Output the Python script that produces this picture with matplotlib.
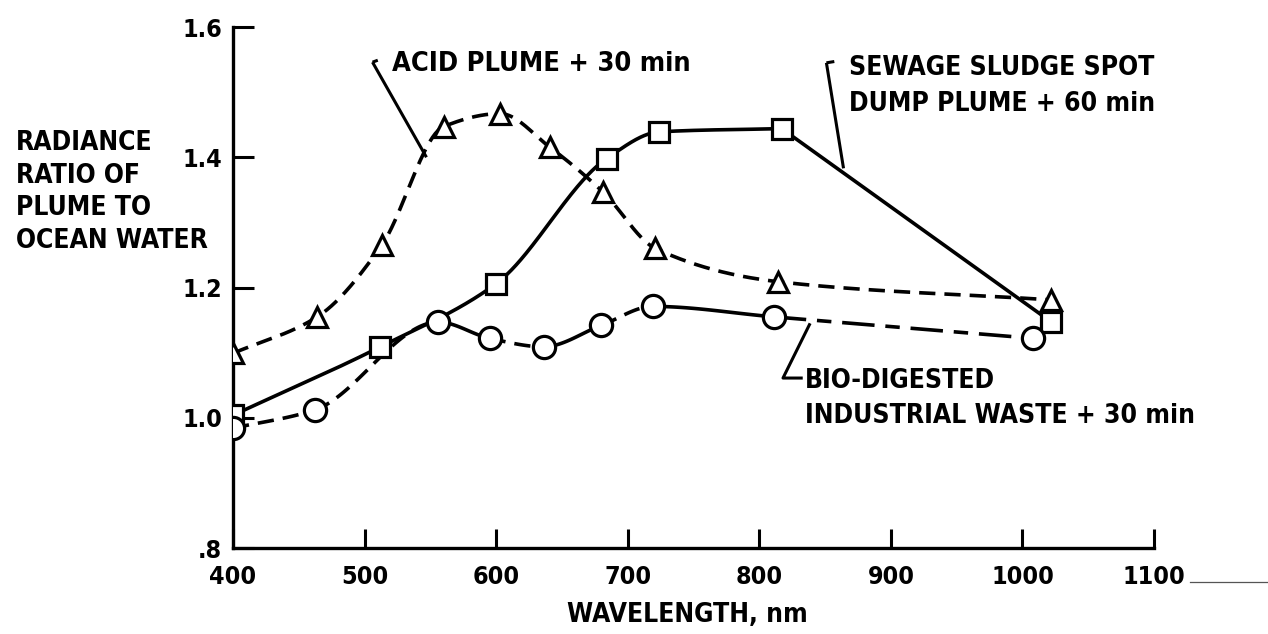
import numpy as np
import matplotlib
matplotlib.use("Agg")
import matplotlib.pyplot as plt
from matplotlib.lines import Line2D

# ---- data ----
acid_x = [400, 464, 513, 560, 603, 641, 681, 721, 814, 1022]
acid_y = [1.099, 1.155, 1.265, 1.447, 1.467, 1.415, 1.347, 1.260, 1.209, 1.181]

sewage_x = [400, 512, 600, 684, 724, 817, 1022]
sewage_y = [1.004, 1.109, 1.206, 1.398, 1.439, 1.444, 1.147]

bio_x = [400, 462, 556, 595, 636, 680, 719, 811, 1008]
bio_y = [0.984, 1.012, 1.147, 1.122, 1.109, 1.142, 1.171, 1.155, 1.122]

x_ticks = [400, 500, 600, 700, 800, 900, 1000, 1100]
y_ticks = [0.8, 1.0, 1.2, 1.4, 1.6]
y_tick_labels = [".8", "1.0", "1.2", "1.4", "1.6"]

acid_label = "ACID PLUME + 30 min"
sewage_label = "SEWAGE SLUDGE SPOT\nDUMP PLUME + 60 min"
bio_label = "BIO-DIGESTED\nINDUSTRIAL WASTE + 30 min"
y_label_lines = ["RADIANCE", "RATIO OF", "PLUME TO", "OCEAN WATER"]
x_label = "WAVELENGTH, nm"


def pchip(x, y, xs):
    x = np.asarray(x, float); y = np.asarray(y, float)
    h = np.diff(x); d = np.diff(y) / h
    n = len(x); m = np.zeros(n)
    for k in range(1, n - 1):
        if d[k - 1] * d[k] > 0:
            w1 = 2 * h[k] + h[k - 1]; w2 = h[k] + 2 * h[k - 1]
            m[k] = (w1 + w2) / (w1 / d[k - 1] + w2 / d[k])
    m[0] = d[0]; m[-1] = d[-1]
    idx = np.clip(np.searchsorted(x, xs) - 1, 0, n - 2)
    t = (xs - x[idx]) / h[idx]
    h00 = 2 * t**3 - 3 * t**2 + 1; h10 = t**3 - 2 * t**2 + t
    h01 = -2 * t**3 + 3 * t**2; h11 = t**3 - t**2
    return h00 * y[idx] + h10 * h[idx] * m[idx] + h01 * y[idx + 1] + h11 * h[idx] * m[idx + 1]


FONT = dict(family="DejaVu Sans", fontweight="bold", fontstretch="condensed")
LW = 2.6
MEW = 2.3
DASH = (0, (4.5, 2.5))

fig = plt.figure(figsize=(12.68, 6.34), dpi=100)
ax = fig.add_axes([0.1838, 0.1356, 0.9101 - 0.1838, 0.9574 - 0.1356])
ax.set_xlim(400, 1100)
ax.set_ylim(0.8, 1.6)

# acid plume: dashed smooth curve
xs = np.linspace(acid_x[0], acid_x[-1], 600)
ax.plot(xs, pchip(acid_x, acid_y, xs), color="black", lw=LW, ls=DASH, zorder=2)
ax.plot(acid_x, acid_y, ls="none", marker="^", ms=15, mfc="white", mec="black", mew=MEW, zorder=4)

# sewage sludge: solid smooth curve, straight last segment
xs = np.linspace(sewage_x[0], sewage_x[-2], 600)
ax.plot(xs, pchip(sewage_x[:-1], sewage_y[:-1], xs), color="black", lw=LW, zorder=2)
ax.plot(sewage_x[-2:], sewage_y[-2:], color="black", lw=LW, zorder=2)
ax.plot(sewage_x, sewage_y, ls="none", marker="s", ms=14, mfc="white", mec="black", mew=MEW, zorder=4)

# bio-digested: mixed solid/dashed segments
bio_styles = [DASH, DASH, "-", DASH, "-", DASH, "-", (0, (9, 3, 4, 3))]
for k in range(len(bio_x) - 1):
    xs = np.linspace(bio_x[k], bio_x[k + 1], 80)
    ax.plot(xs, pchip(bio_x, bio_y, xs), color="black", lw=LW, ls=bio_styles[k], zorder=2)
ax.plot(bio_x, bio_y, ls="none", marker="o", ms=16, mfc="white", mec="black", mew=MEW, zorder=4)

# axes styling
for s in ["top", "right"]:
    ax.spines[s].set_visible(False)
for s in ["left", "bottom"]:
    ax.spines[s].set_linewidth(2.4)
ax.set_xticks(x_ticks)
ax.set_xticklabels([str(v) for v in x_ticks], fontsize=18, **FONT)
ax.set_yticks(y_ticks)
ax.set_yticklabels(y_tick_labels, fontsize=18, **FONT)
ax.tick_params(axis="x", direction="in", length=14, width=2.2, pad=12)
ax.tick_params(axis="y", direction="in", length=15, width=2.2, pad=8)
ax.patch.set_visible(False)

# leader lines and labels
lk = dict(color="black", lw=2.2, solid_capstyle="butt")
ax.plot([506, 510], [1.546, 1.549], **lk)
ax.plot([506, 547], [1.546, 1.400], **lk)
ax.text(521, 1.543, acid_label, fontsize=19.5, va="center", ha="left", **FONT)

ax.plot([851, 857], [1.545, 1.547], **lk)
ax.plot([851, 864], [1.545, 1.383], **lk)
ax.text(868, 1.509, sewage_label, fontsize=19, va="center", ha="left", linespacing=1.5, **FONT)

ax.plot([838.6, 818, 833], [1.145, 1.061, 1.061], **lk)
ax.text(835, 1.030, bio_label, fontsize=19, va="center", ha="left", linespacing=1.45, **FONT)

for i, line in enumerate(y_label_lines):
    fig.text(16 / 1268, 1 - (143 + 32.5 * i) / 634, line, fontsize=19, va="center", ha="left", **FONT)
fig.text(687 / 1268, 1 - 615 / 634, x_label, fontsize=19, va="center", ha="center", **FONT)

fig.add_artist(Line2D([1190 / 1268, 1.0], [1 - 582 / 634, 1 - 582 / 634], color="#555555", lw=0.9))

fig.savefig("out.png", dpi=100, facecolor="white")
